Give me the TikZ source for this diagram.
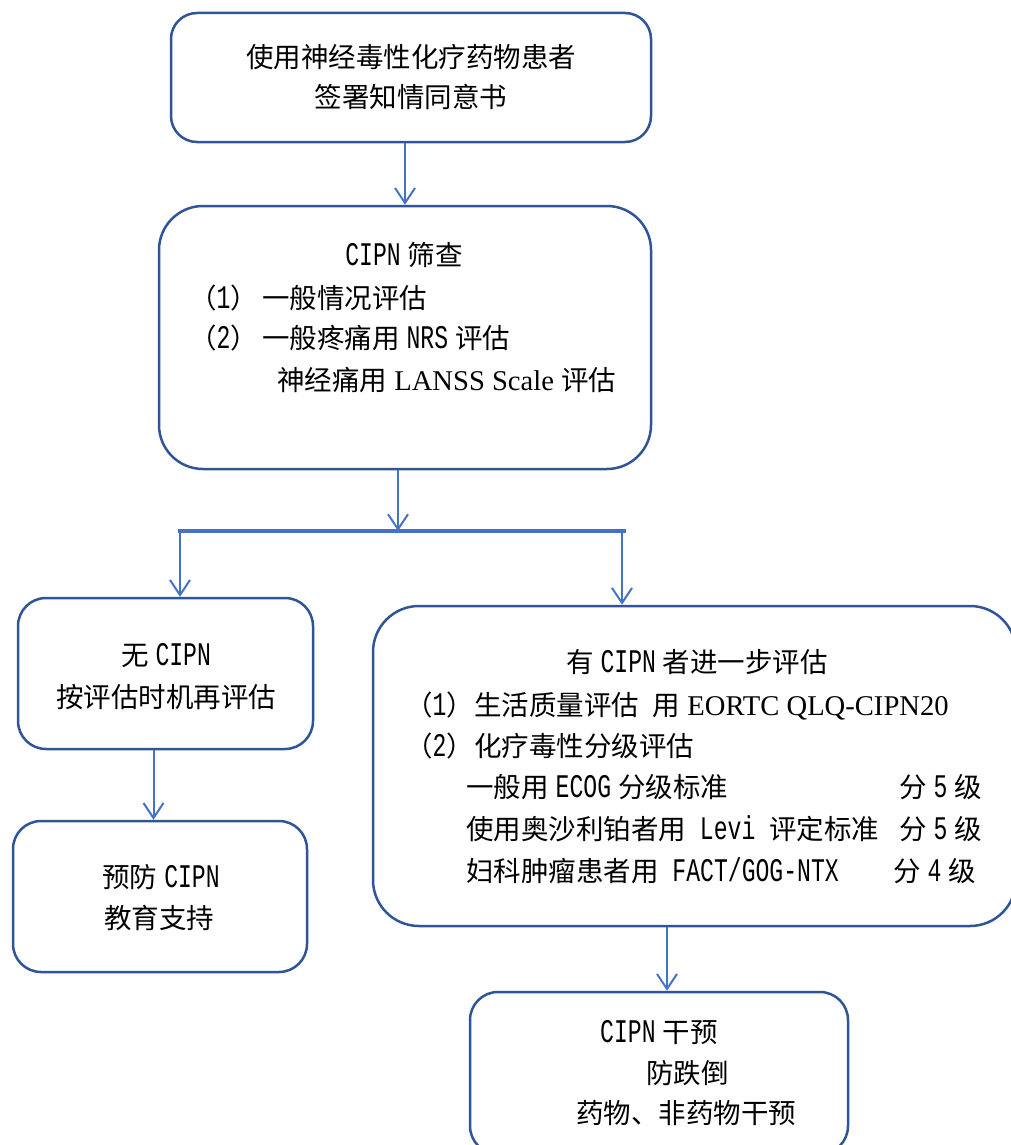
\documentclass[tikz,border=0pt]{standalone}
\usepackage{fontspec}
\setmainfont{Noto Sans CJK SC}
\newfontfamily\hw[Scale=1.2,FakeStretch=0.7]{Liberation Mono}
\newfontfamily\tms[Scale=1.04]{Liberation Serif}
\newcommand\hsp{\hspace{7pt}}
\newcommand\hsw{\hspace{13.75pt}}
\usetikzlibrary{arrows.meta}
\definecolor{boxblue}{HTML}{2F5597}
\definecolor{arrblue}{HTML}{4472C4}
\tikzset{
  box/.style={draw=boxblue, line width=2.5pt, inner sep=0pt, rounded corners=#1},
  box/.default=28pt,
  txt/.style={inner sep=0pt, anchor=base, font=\fontsize{27.5}{41}\selectfont},
  txtl/.style={txt, anchor=base west},
  arr/.style={draw=arrblue, line width=2pt, -{Straight Barb[length=15pt,width=20pt]}},
  bar/.style={draw=arrblue, line width=3.5pt},
}
\begin{document}
\begin{tikzpicture}[x=1pt,y=-1pt]
\useasboundingbox (0,0) rectangle (1011,1145);
% boxes
\node[box=26pt, minimum width=480pt, minimum height=129pt] (b1) at (411,77.5) {};
\node[box=44pt, minimum width=492pt, minimum height=263pt] (b2) at (405,337.5) {};
\node[box=28pt, minimum width=295pt, minimum height=151pt] (b3) at (165.5,673.5) {};
\node[box=28pt, minimum width=294pt, minimum height=151pt] (b4) at (160,896.5) {};
\node[box=46pt, minimum width=643pt, minimum height=320pt] (b5) at (694.5,766) {};
\node[box=28pt, minimum width=378pt, minimum height=162pt] (b6) at (659,1073) {};
% texts
\node[txt] (t1a) at (411,68) {使用神经毒性化疗药物患者};
\node[txt] (t1b) at (411,108) {签署知情同意书};
\node[txt] (t2a) at (404,265) {{\hw CIPN}\hsp 筛查};
\node[txtl] (t2b) at (189,308) {（{\hw 1}）\hspace{4pt}一般情况评估};
\node[txtl] (t2c) at (189,348) {（{\hw 2}）\hspace{4pt}一般疼痛用\hsp{\hw NRS}\hsp 评估};
\node[txtl] (t2d) at (277,390) {神经痛用{\tms\ LANSS Scale\ }评估};
\node[txt] (t3a) at (166,665) {无\hsp{\hw CIPN}};
\node[txt] (t3b) at (166,707) {按评估时机再评估};
\node[txt] (t4a) at (161,887) {预防\hsp{\hw CIPN}};
\node[txt] (t4b) at (159,928) {教育支持};
\node[txt] (t5a) at (697,672) {有\hsp{\hw CIPN}\hsp 者进一步评估};
\node[txtl] (t5b) at (405,715) {（{\hw 1}）生活质量评估\hsw 用{\tms\ EORTC QLQ-CIPN20}};
\node[txtl] (t5c) at (405,756) {（{\hw 2}）化疗毒性分级评估};
\node[txtl] (t5d) at (466,797) {一般用\hsp{\hw ECOG}\hsp 分级标准};
\node[txtl] (t5e) at (899,797) {分\hsp{\hw 5}\hsp 级};
\node[txtl] (t5f) at (466,839) {使用奥沙利铂者用\hsw{\hw Levi}\hsw 评定标准};
\node[txtl] (t5g) at (899,839) {分\hsp{\hw 5}\hsp 级};
\node[txtl] (t5h) at (466,881) {妇科肿瘤患者用\hsw{\hw FACT/GOG-NTX}};
\node[txtl] (t5i) at (893,881) {分\hsp{\hw 4}\hsp 级};
\node[txtl] (t6a) at (600,1042) {{\hw CIPN}\hsp 干预};
\node[txtl] (t6b) at (646,1083) {防跌倒};
\node[txtl] (t6c) at (576,1123) {药物、非药物干预};
% connectors
\coordinate (barL) at (178,531);
\coordinate (barR) at (626,531);
\coordinate (jM) at (398,531);
\coordinate (jL) at (180,531);
\coordinate (jR) at (622,531);
\draw[arr] (b1.south -| b2.north) -- (b2.north);
\draw[bar] (barL) -- (barR);
\draw[arr] (b2.south -| jM) -- (jM);
\draw[arr] (jL) -- (jL |- b3.north);
\draw[arr] (jR) -- (jR |- b5.north);
\draw[arr] ([xshift=-12pt]b3.south) -- ([xshift=-12pt]b3.south |- b4.north);
\draw[arr] ([xshift=-27.5pt]b5.south) -- ([xshift=-27.5pt]b5.south |- b6.north);
\end{tikzpicture}
\end{document}
